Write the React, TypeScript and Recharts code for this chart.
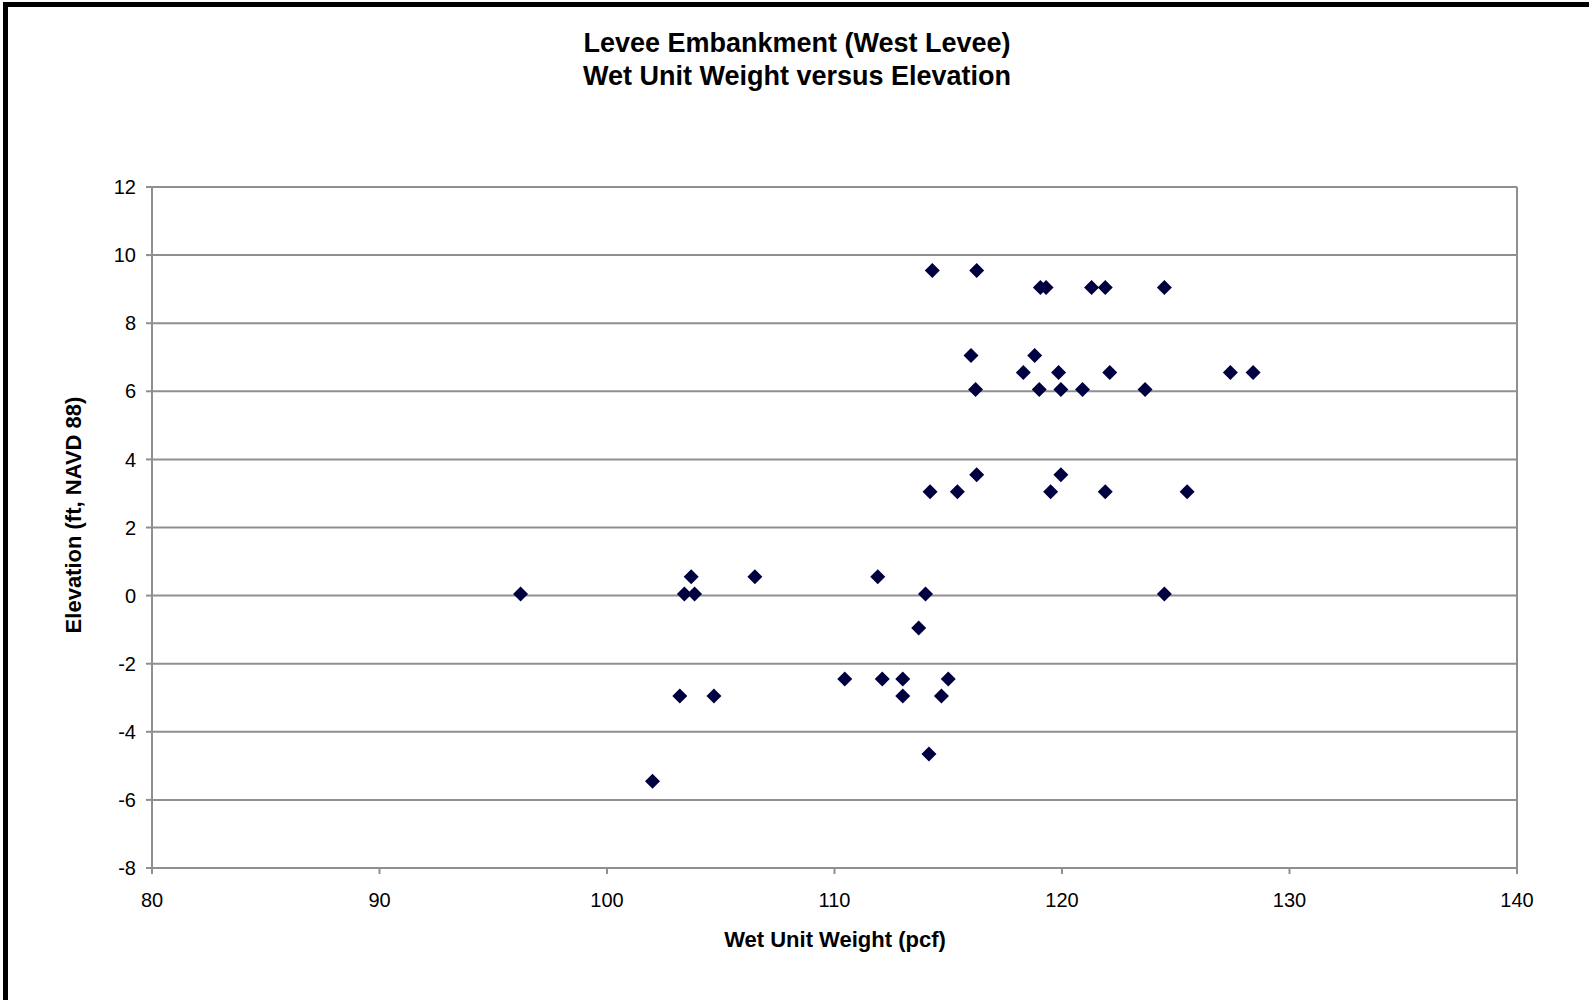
import {
  ScatterChart,
  Scatter,
  XAxis,
  YAxis,
  CartesianGrid,
  ReferenceLine,
} from "recharts";

// wet unit weight (pcf) and elevation (ft, NAVD 88), one entry per sample
const weights = [
  96.2, 102.0, 103.2, 103.4, 103.7, 103.85, 104.7, 106.5, 110.45, 111.9,
  112.1, 113.0, 113.0, 113.7, 114.0, 114.15, 114.3, 114.2, 114.7, 115.0,
  115.4, 116.0, 116.2, 116.25, 116.25, 118.3, 118.8, 119.0, 119.05, 119.3,
  119.5, 119.85, 119.95, 119.95, 120.9, 121.3, 121.9, 121.9, 122.1, 123.65,
  124.5, 124.5, 125.5, 127.4, 128.4,
];
const elevations = [
  0.05, -5.45, -2.95, 0.05, 0.55, 0.05, -2.95, 0.55, -2.45, 0.55,
  -2.45, -2.45, -2.95, -0.95, 0.05, -4.65, 9.55, 3.05, -2.95, -2.45,
  3.05, 7.05, 6.05, 9.55, 3.55, 6.55, 7.05, 6.05, 9.05, 9.05,
  3.05, 6.55, 6.05, 3.55, 6.05, 9.05, 9.05, 3.05, 6.55, 6.05,
  9.05, 0.05, 3.05, 6.55, 6.55,
];

const xTicks = [80, 90, 100, 110, 120, 130, 140];
const yTicks = [-8, -6, -4, -2, 0, 2, 4, 6, 8, 10, 12];

const points = weights.map((w, i) => ({ weight: w, elevation: elevations[i] }));

const FONT = '"Liberation Sans", Arial, sans-serif';
const GRID = "#8f8f8f";
const MARK = "#000040";

function Diamond(props: any) {
  const { cx, cy } = props;
  const r = 7.5;
  return (
    <path
      d={`M${cx},${cy - r}L${cx + r},${cy}L${cx},${cy + r}L${cx - r},${cy}Z`}
      fill={MARK}
    />
  );
}

export default function App() {
  return (
    <div
      style={{
        position: "absolute",
        left: 0,
        top: 0,
        width: 1589,
        height: 1000,
        background: "#fff",
        fontFamily: FONT,
      }}
    >
      <div
        style={{
          position: "absolute",
          top: 27,
          left: 0,
          width: 1594,
          textAlign: "center",
          fontSize: 27,
          fontWeight: "bold",
          lineHeight: "33px",
          color: "#000",
        }}
      >
        <div>Levee Embankment (West Levee)</div>
        <div>Wet Unit Weight versus Elevation</div>
      </div>

      <ScatterChart
        width={1589}
        height={1000}
        margin={{ top: 187, right: 72, bottom: 72, left: 92 }}
      >
        <CartesianGrid vertical={false} stroke={GRID} strokeWidth={2} />
        <XAxis
          type="number"
          dataKey="weight"
          domain={[80, 140]}
          ticks={xTicks}
          interval={0}
          height={60}
          stroke={GRID}
          strokeWidth={2}
          tickSize={6}
          tickMargin={19}
          tick={{ fill: "#000", fontSize: 20, fontFamily: FONT }}
          label={{
            content: () => (
              <text
                x={835}
                y={947}
                textAnchor="middle"
                fontSize={22}
                fontWeight="bold"
                fontFamily={FONT}
                fill="#000"
              >
                Wet Unit Weight (pcf)
              </text>
            ),
          }}
        />
        <YAxis
          type="number"
          dataKey="elevation"
          domain={[-8, 12]}
          ticks={yTicks}
          interval={0}
          width={60}
          stroke={GRID}
          strokeWidth={2}
          tickSize={6}
          tickMargin={10}
          tick={{ fill: "#000", fontSize: 20, fontFamily: FONT }}
          label={{
            content: () => (
              <text
                x={73}
                y={515}
                transform="rotate(-90 73 515)"
                textAnchor="middle"
                dominantBaseline="central"
                fontSize={22}
                fontWeight="bold"
                fontFamily={FONT}
                fill="#000"
              >
                Elevation (ft, NAVD 88)
              </text>
            ),
          }}
        />
        <ReferenceLine x={140} stroke={GRID} strokeWidth={2} />
        <Scatter data={points} shape={Diamond} isAnimationActive={false} />
      </ScatterChart>

      {/* frame: top and left edges */}
      <div
        style={{
          position: "absolute",
          left: 3,
          top: 2,
          width: 1586,
          height: 998,
          borderTop: "5px solid #000",
          borderLeft: "5px solid #000",
          boxSizing: "border-box",
          pointerEvents: "none",
          zIndex: 5,
        }}
      />
    </div>
  );
}
